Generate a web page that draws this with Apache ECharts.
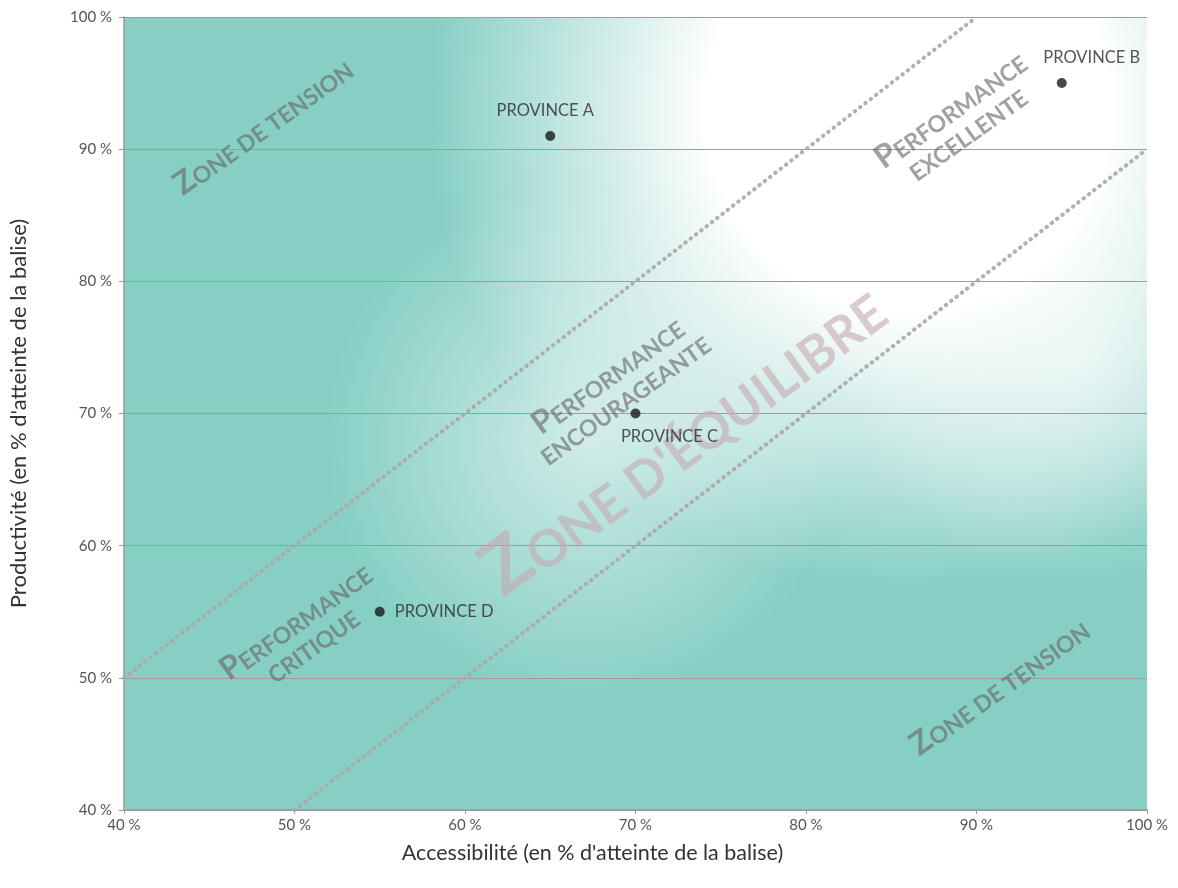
<!DOCTYPE html>
<html>
<head>
<meta charset="utf-8">
<script src="https://cdn.jsdelivr.net/npm/echarts@6/dist/echarts.min.js"></script>
<style>
html,body{margin:0;padding:0;background:#fff;}
#main{width:1178px;height:888px;}
</style>
</head>
<body>
<div id="main"></div>
<script>
// ---- Data ----
const axisMin = 40, axisMax = 100, axisStep = 10;
const xAxisName = "Accessibilité (en % d'atteinte de la balise)";
const yAxisName = "Productivité (en % d'atteinte de la balise)";

const provinceNames = ['PROVINCE A', 'PROVINCE B', 'PROVINCE C', 'PROVINCE D'];
const provinceX = [65, 95, 70, 55];
const provinceY = [91, 95, 70, 55];

// diagonal boundary lines (y = x + 10 and y = x - 10)
const upperLineX = [40, 90];
const upperLineY = [50, 100];
const lowerLineX = [50, 100];
const lowerLineY = [40, 90];

// zone captions (text, anchor in data units)
const zoneTexts = ['ZONE DE TENSION', 'ZONE DE TENSION', 'PERFORMANCE\nEXCELLENTE', 'PERFORMANCE\nENCOURAGEANTE', 'PERFORMANCE\nCRITIQUE'];
const zoneX = [48.2, 91.4, 89.0, 68.9, 50.6];
const zoneY = [91.6, 49.2, 92.0, 71.9, 53.3];

const bigZoneText = "ZONE D'ÉQUILIBRE";
const bigZoneX = 72.8;
const bigZoneY = 68.0;

// ---- Chart ----
const FONT = 'Lato, "Noto Sans", sans-serif';
const chart = echarts.init(document.getElementById('main'), null, {renderer: 'canvas'});

function smallCaps(text, bigKey, smallKey) {
  return text.split('\n').map((line, i) =>
    i === 0 ? '{' + bigKey + '|' + line.charAt(0) + '}{' + smallKey + '|' + line.slice(1) + '}'
            : '{' + smallKey + '|' + line + '}'
  ).join('\n');
}

const zoneData = zoneTexts.map((t, i) => ({name: t, value: [zoneX[i], zoneY[i]]}));
const zoneColor = 'rgba(105,105,105,0.78)';
const bigColor = 'rgba(196,168,176,0.75)';

const option = {
  animation: false,
  backgroundColor: '#ffffff',
  textStyle: {fontFamily: FONT},
  grid: {left: 121, right: 31, top: 17, bottom: 78, containLabel: false},
  xAxis: {
    type: 'value', min: axisMin, max: axisMax, interval: axisStep, z: 3,
    name: xAxisName, nameLocation: 'middle', nameGap: 32,
    nameTextStyle: {fontSize: 21.5, color: '#333', fontFamily: FONT, padding: [0, 86, 0, 0]},
    axisLine: {show: true, lineStyle: {color: '#9a9a9a', width: 1.5}},
    axisTick: {show: true, length: 4, lineStyle: {color: '#9a9a9a'}},
    axisLabel: {formatter: '{value} %', fontSize: 15, color: '#555', margin: 8, fontFamily: FONT},
    splitLine: {show: false}
  },
  yAxis: {
    type: 'value', min: axisMin, max: axisMax, interval: axisStep, z: 3,
    name: yAxisName, nameLocation: 'middle', nameGap: 94,
    nameTextStyle: {fontSize: 22, color: '#333', fontFamily: FONT},
    axisLine: {show: true, lineStyle: {color: '#9a9a9a', width: 1.5}},
    axisTick: {show: true, length: 5, lineStyle: {color: '#9a9a9a'}},
    axisLabel: {formatter: '{value} %', fontSize: 15, color: '#555', margin: 12, fontFamily: FONT},
    splitLine: {show: true, lineStyle: {color: '#a09a9c', width: 1.2}}
  },
  series: [
    {
      type: 'line', z: 4, silent: true, symbol: 'none',
      data: upperLineX.map((x, i) => [x, upperLineY[i]]),
      lineStyle: {color: 'rgba(172,166,170,0.9)', width: 4, type: [0.5, 6.2], cap: 'round'}
    },
    {
      type: 'line', z: 4, silent: true, symbol: 'none',
      data: lowerLineX.map((x, i) => [x, lowerLineY[i]]),
      lineStyle: {color: 'rgba(172,166,170,0.9)', width: 4, type: [0.5, 6.2], cap: 'round'}
    },
    {
      type: 'scatter', z: 5, silent: true, symbolSize: 0,
      data: [{name: bigZoneText, value: [bigZoneX, bigZoneY]}],
      label: {
        show: true, position: 'inside', rotate: 36, align: 'center', verticalAlign: 'middle',
        formatter: p => smallCaps(p.name, 'B', 'S'),
        rich: {
          B: {fontSize: 74, fontWeight: 'bold', fontFamily: FONT, color: bigColor, verticalAlign: 'bottom', lineHeight: 70},
          S: {fontSize: 51, fontWeight: 'bold', fontFamily: FONT, color: bigColor, verticalAlign: 'bottom', lineHeight: 70}
        }
      }
    },
    {
      type: 'scatter', z: 6, silent: true, symbolSize: 0,
      data: zoneData,
      label: {
        show: true, position: 'inside', rotate: 35.5, align: 'center', verticalAlign: 'middle',
        formatter: p => smallCaps(p.name, 'b', 's'),
        rich: {
          b: {fontSize: 32, fontWeight: 'bold', fontFamily: FONT, color: zoneColor, verticalAlign: 'bottom', lineHeight: 28},
          s: {fontSize: 23, fontWeight: 'bold', fontFamily: FONT, color: zoneColor, verticalAlign: 'bottom', lineHeight: 28}
        }
      }
    },
    {
      type: 'scatter', z: 7, silent: true, symbol: 'circle', symbolSize: 10,
      itemStyle: {color: '#1a1a1a'},
      data: provinceNames.map((n, i) => ({name: n, value: [provinceX[i], provinceY[i]]})),
      label: {
        show: true, fontSize: 16.5, color: '#2a2a2a', fontFamily: FONT,
        formatter: '{b}'
      }
    }
  ]
};

// label placements per province
const provLabelPos = [
  {position: 'top', distance: 12, offset: [-5, 0]},
  {position: 'top', distance: 12, offset: [30, 0]},
  {position: 'bottom', distance: 10, offset: [34, 0]},
  {position: 'right', distance: 10, offset: [0, 0]}
];
option.series[4].data.forEach((d, i) => { d.label = provLabelPos[i]; });

chart.setOption(option);

// background: teal field with a soft white glow along the diagonal (pixel positions from the axes)
function px(x, y) { return chart.convertToPixel({xAxisIndex: 0, yAxisIndex: 0}, [x, y]); }
const p0 = px(axisMin, axisMax), p1 = px(axisMax, axisMin);
const rect = {x: p0[0], y: p0[1], width: p1[0] - p0[0], height: p1[1] - p0[1]};
const glowA = px(86, 93), glowB = px(67, 68), glowC = px(96, 74);
chart.setOption({
  graphic: [
    {type: 'rect', z: -10, silent: true, shape: rect, style: {fill: '#87cfc5'}},
    {type: 'rect', z: -9, silent: true, shape: rect, style: {
      fill: new echarts.graphic.RadialGradient(glowA[0], glowA[1], 480, [
        {offset: 0, color: 'rgba(255,255,255,1)'},
        {offset: 0.42, color: 'rgba(255,255,255,1)'},
        {offset: 1, color: 'rgba(255,255,255,0)'}
      ], true)}},
    {type: 'rect', z: -8, silent: true, shape: rect, style: {
      fill: new echarts.graphic.RadialGradient(glowB[0], glowB[1], 260, [
        {offset: 0, color: 'rgba(255,255,255,0.6)'},
        {offset: 1, color: 'rgba(255,255,255,0)'}
      ], true)}},
    {type: 'rect', z: -8, silent: true, shape: rect, style: {
      fill: new echarts.graphic.RadialGradient(glowC[0], glowC[1], 230, [
        {offset: 0, color: 'rgba(255,255,255,0.55)'},
        {offset: 1, color: 'rgba(255,255,255,0)'}
      ], true)}}
  ]
});
</script>
</body>
</html>
